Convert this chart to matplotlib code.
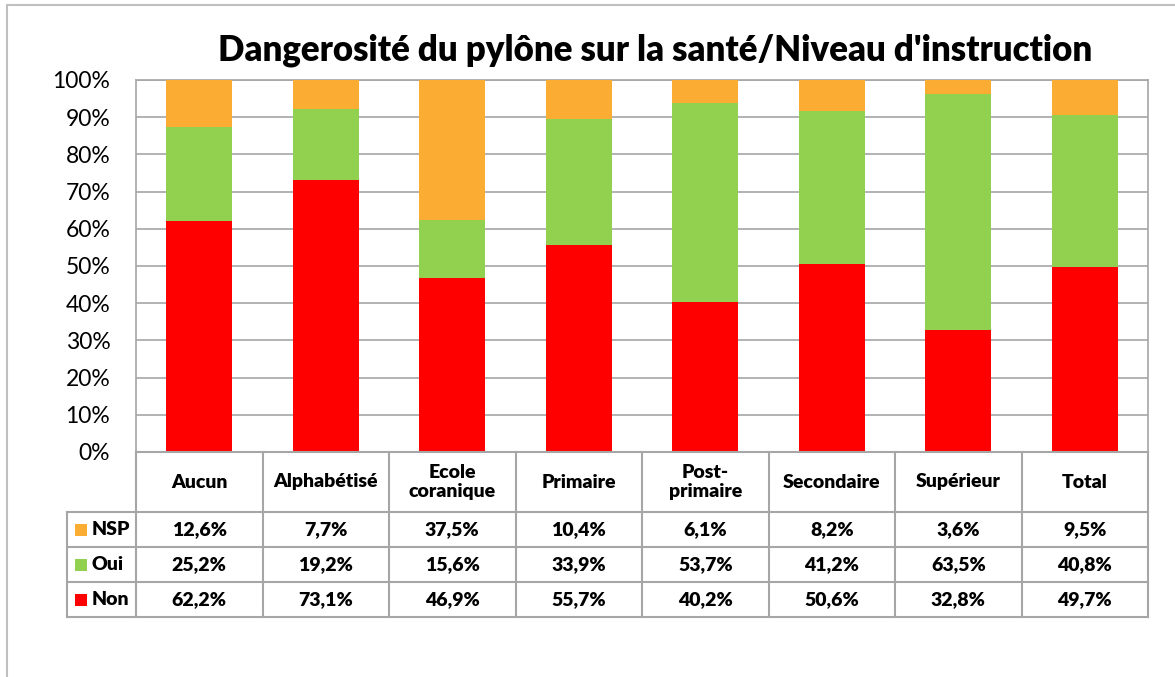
import numpy as np
import matplotlib.pyplot as plt
from matplotlib.patches import Rectangle

categories = ['Aucun', 'Alphabétisé', 'Ecole\ncoranique', 'Primaire', 'Post-\nprimaire',
              'Secondaire', 'Supérieur', 'Total']
nsp = [12.6, 7.7, 37.5, 10.4, 6.1, 8.2, 3.6, 9.5]
oui = [25.2, 19.2, 15.6, 33.9, 53.7, 41.2, 63.5, 40.8]
non = [62.2, 73.1, 46.9, 55.7, 40.2, 50.6, 32.8, 49.7]

series = ['NSP', 'Oui', 'Non']
colors = {'NSP': '#FBAD33', 'Oui': '#92D050', 'Non': '#FF0000'}
title = "Dangerosité du pylône sur la santé/Niveau d'instruction"

plt.rcParams['font.family'] = ['Lato', 'DejaVu Sans']
grid_c = '#A6A6A6'

W, H = 1175, 677
fig = plt.figure(figsize=(W / 100, H / 100), dpi=100)

def box(x0, y0, x1, y1):
    return [x0 / W, 1 - y1 / H, (x1 - x0) / W, (y1 - y0) / H]

# outer chart frame
fig.patches.append(Rectangle((7 / W, -0.1), 1.2, 1 - 5 / H + 0.1, transform=fig.transFigure,
                             fill=False, edgecolor='#BFBFBF', lw=1.5))

ax = fig.add_axes(box(136, 80, 1148, 452))
x = np.arange(len(categories))
width = 0.52
ax.bar(x, non, width, color=colors['Non'], zorder=3)
ax.bar(x, oui, width, bottom=non, color=colors['Oui'], zorder=3)
ax.bar(x, nsp, width, bottom=np.array(non) + np.array(oui), color=colors['NSP'], zorder=3)
ax.set_xlim(-0.5, len(categories) - 0.5)
ax.set_ylim(0, 100)
ax.set_yticks(np.arange(0, 101, 10))
ax.set_yticklabels([f'{v}%' for v in range(0, 101, 10)], fontsize=16.5)
ax.set_xticks([])
ax.tick_params(axis='y', length=0, pad=18.5)
ax.yaxis.grid(True, color=grid_c, lw=1.2, zorder=0)
for s in ['left', 'top', 'right']:
    ax.spines[s].set_color(grid_c)
    ax.spines[s].set_linewidth(1.2)
ax.spines['bottom'].set_visible(False)
fig.text(655 / W, 1 - 50 / H, title, ha='center', va='center', fontsize=25, fontweight='heavy')

# data table below the bars
n = len(categories)
tx0 = -0.5 - (136 - 67) / (1012 / n)
head_h = 60 / 35
tab = fig.add_axes(box(67, 452, 1148, 617))
tab.set_xlim(tx0, n - 0.5)
tab.set_ylim(3, -head_h)
tab.axis('off')
lc = dict(color=grid_c, lw=1.5, clip_on=False)
tab.plot([-0.5, n - 0.5], [-head_h, -head_h], **lc)
for r in range(4):
    tab.plot([tx0, n - 0.5], [r, r], **lc)
tab.plot([tx0, tx0], [0, 3], **lc)
for i in range(n + 1):
    tab.plot([i - 0.5, i - 0.5], [-head_h, 3], **lc)

fs = 14
for i, c in enumerate(categories):
    tab.text(i, -head_h / 2, c, ha='center', va='center', fontsize=fs, fontweight='heavy',
             linespacing=1.15)
table_vals = {'NSP': nsp, 'Oui': oui, 'Non': non}
for r, s in enumerate(series):
    for i, v in enumerate(table_vals[s]):
        tab.text(i, r + 0.5, f'{v:.1f}%'.replace('.', ','), ha='center', va='center',
                 fontsize=fs, fontweight='heavy')
    tab.scatter([tx0 + 14 / 126.5], [r + 0.5], marker='s', s=78, color=colors[s],
                clip_on=False, linewidths=0)
    tab.text(tx0 + 25 / 126.5, r + 0.5, s, ha='left', va='center', fontsize=fs, fontweight='heavy')

fig.savefig('out.png', dpi=100)
